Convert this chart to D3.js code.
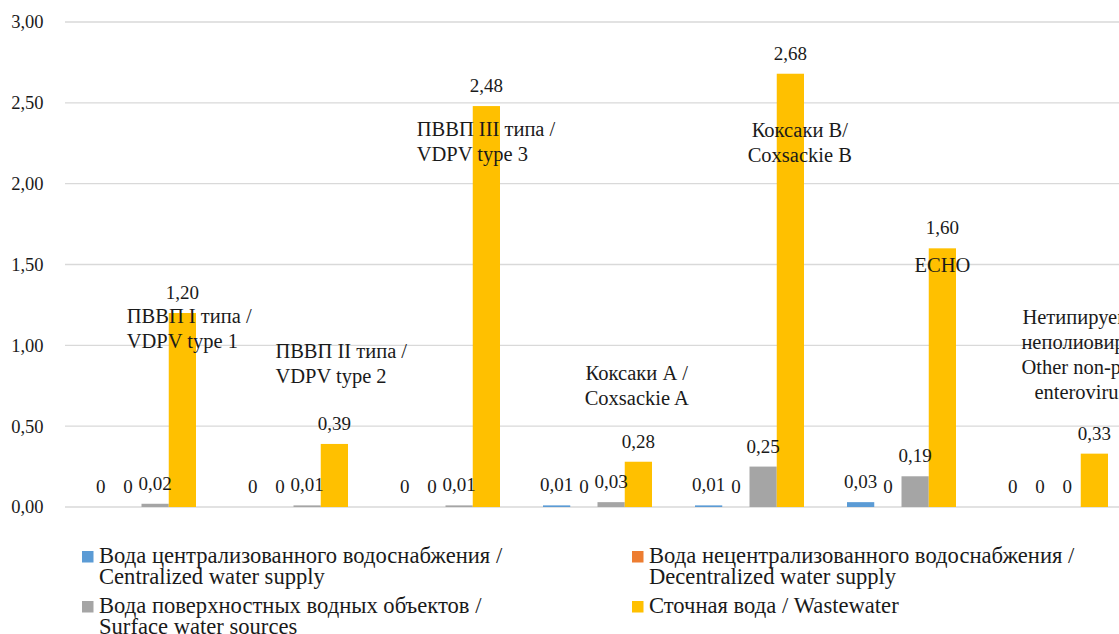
<!DOCTYPE html>
<html><head><meta charset="utf-8">
<script src="https://cdn.jsdelivr.net/npm/d3@7"></script>
<style>
html,body{margin:0;padding:0;background:#fff;}
svg{display:block;}
</style></head>
<body><svg id="c" width="1119" height="634"></svg>
<script>
const categories = ["ПВВП I типа / VDPV type 1","ПВВП II типа / VDPV type 2","ПВВП III типа / VDPV type 3","Коксаки А / Coxsackie A","Коксаки В/ Coxsackie B","ECHO","Нетипируемые неполиовирусные / Other non-polio enteroviruses"];
const categoryLines = [
  ["ПВВП I типа /","VDPV type 1"],
  ["ПВВП II типа /","VDPV type 2"],
  ["ПВВП III типа /","VDPV type 3"],
  ["Коксаки А /","Coxsackie A"],
  ["Коксаки В/","Coxsackie B"],
  ["ECHO"],
  ["Нетипируемые /","неполиовирусные","Other non-polio","enteroviruses"]
];
const seriesNames = ["Вода централизованного водоснабжения / Centralized water supply","Вода нецентрализованного водоснабжения / Decentralized water supply","Вода поверхностных водных объектов / Surface water sources","Сточная вода / Wastewater"];
const legendLines = [
  ["Вода централизованного водоснабжения /","Centralized water supply"],
  ["Вода нецентрализованного водоснабжения /","Decentralized water supply"],
  ["Вода поверхностных водных объектов /","Surface water sources"],
  ["Сточная вода / Wastewater"]
];
const centralized   = [0, 0, 0, 0.01, 0.01, 0.03, 0];
const decentralized = [0, 0, 0, 0, 0, 0, 0];
const surface       = [0.02, 0.01, 0.01, 0.03, 0.25, 0.19, 0];
const wastewater    = [1.20, 0.39, 2.48, 0.28, 2.68, 1.60, 0.33];
const yTicks = [0, 0.5, 1, 1.5, 2, 2.5, 3];
const colors = ["#5B9BD5","#ED7D31","#A5A5A5","#FFC000"];

const seriesValues = [centralized, decentralized, surface, wastewater];

// annotation layout (anchor, offset from wastewater bar centre, first baseline, per-line indent)
const annLayout = [
  {anchor:"start", dx:-55.6, y:323},
  {anchor:"start", dx:-59, y:358},
  {anchor:"start", dx:-69.6, y:136},
  {anchor:"middle", dx:-1.6, y:380},
  {anchor:"middle", dx:9.4, y:137},
  {anchor:"middle", dx:0, y:272},
  {anchor:"start", dx:-73, y:324, indent:[1,0,0,13]}
];

const FONT = "Liberation Serif";
const svg = d3.select("#c").attr("font-family", FONT);
const W = 1119;
const left = 65, step = 152;
const x0 = d3.scaleBand().domain(categories).range([left, left + step*categories.length]).padding(0);
const x1 = d3.scaleBand().domain(d3.range(4)).range([22, 131]).padding(0);
const y = d3.scaleLinear().domain([0, 3]).range([507, 22]);

const fmt = v => v === 0 ? "0" : d3.format(".2f")(v).replace(".", ",");
const txt = "#1a1a1a";

// gridlines
svg.append("g").selectAll("line").data(yTicks).join("line")
  .attr("x1", left).attr("x2", W).attr("y1", d => y(d)).attr("y2", d => y(d))
  .attr("stroke", "#d9d9d9").attr("stroke-width", 1.3);

// y axis labels
const yAxis = d3.axisLeft(y).tickValues(yTicks).tickFormat(d => d3.format(".2f")(d).replace(".", ",")).tickSize(0).tickPadding(0);
const ga = svg.append("g").attr("transform", "translate(43.5,0)").call(yAxis);
ga.attr("font-family", FONT).attr("font-size", 18.5);
ga.select(".domain").remove();
ga.selectAll("text").attr("font-size", 18.5).attr("fill", txt).attr("font-family", FONT);

// bars
const rows = categories.map((c, i) => ({c, i, vals: seriesValues.map(s => s[i])}));
const groups = svg.append("g").selectAll("g").data(rows).join("g")
  .attr("transform", d => `translate(${x0(d.c)},0)`);
groups.selectAll("rect").data(d => d.vals.map((v, k) => ({v, k}))).join("rect")
  .attr("x", d => x1(d.k)).attr("width", x1.bandwidth())
  .attr("y", d => y(d.v)).attr("height", d => y(0) - y(d.v))
  .attr("fill", d => colors[d.k]);

// annotations (category names)
rows.forEach((r, i) => {
  const L = annLayout[i];
  const cx = x0(r.c) + x1(3) + x1.bandwidth()/2 + L.dx;
  const t = svg.append("text").attr("text-anchor", L.anchor).attr("font-size", 20.5).attr("font-family", FONT).attr("fill", txt);
  categoryLines[i].forEach((ln, j) => {
    t.append("tspan").attr("x", cx + (L.indent ? L.indent[j] : 0)).attr("y", L.y + j*25).text(ln);
  });
});

// value labels
groups.selectAll("text.v").data(d => d.vals.map((v, k) => ({v, k}))).join("text")
  .attr("class", "v")
  .attr("x", d => x1(d.k) + x1.bandwidth()/2)
  .attr("y", d => y(d.v) - 14)
  .attr("text-anchor", "middle").attr("font-size", 19).attr("font-family", FONT).attr("fill", txt)
  .text(d => fmt(d.v));

// legend
const legPos = [[82, 562.5],[632, 562.5],[82, 612.5],[632, 612.5]];
seriesNames.forEach((n, k) => {
  const [lx, ly] = legPos[k];
  svg.append("rect").attr("x", lx).attr("y", ly - 11.5).attr("width", 11.5).attr("height", 11.5).attr("fill", colors[k]);
  const t = svg.append("text").attr("font-size", 22.6).attr("font-family", FONT).attr("fill", txt);
  legendLines[k].forEach((ln, j) => t.append("tspan").attr("x", lx + 17).attr("y", ly + j*21.6).text(ln));
});
</script></body></html>
